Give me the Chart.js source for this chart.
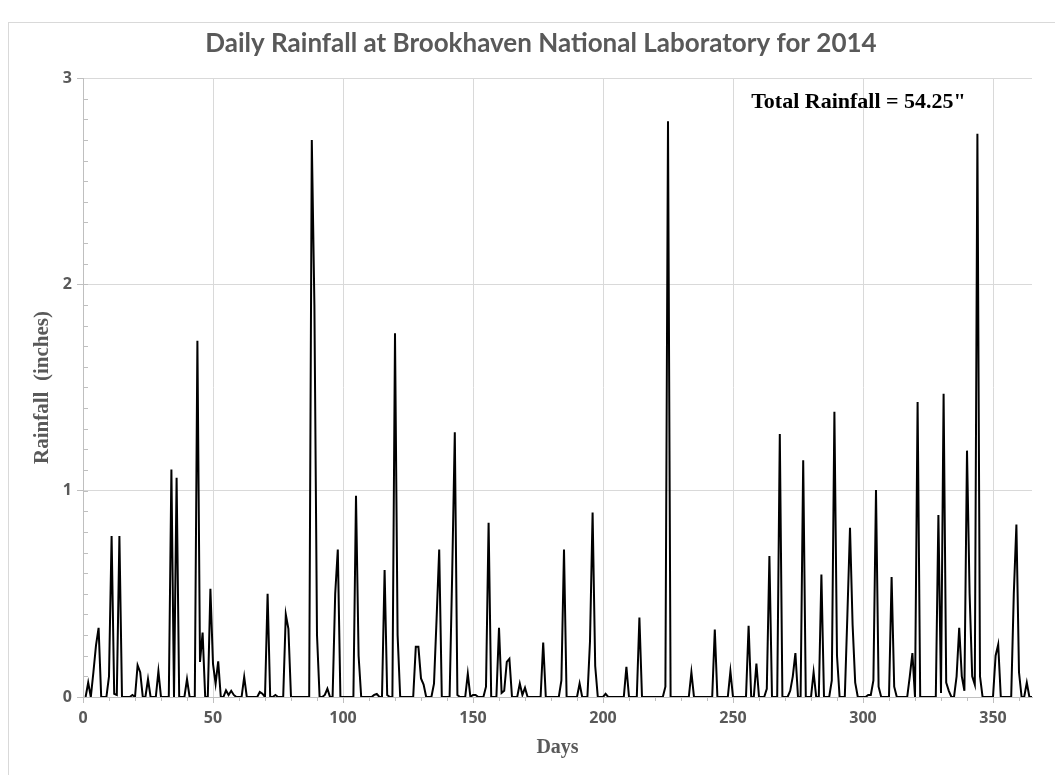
<!DOCTYPE html>
<html>
<head>
<meta charset="utf-8">
<script src="https://cdn.jsdelivr.net/npm/chart.js@4"></script>
<style>
  html, body { margin: 0; padding: 0; background: #fff; }
  #wrap { position: relative; width: 1055px; height: 775px; overflow: hidden; }
  #frame { position: absolute; left: 8px; top: 22px; width: 1100px; height: 800px;
           border-left: 1px solid #d9d9d9; border-top: 1px solid #d9d9d9; }
  #rainChart { position: absolute; left: 0; top: 0; }
</style>
</head>
<body>
<div id="wrap">
  <div id="frame"></div>
  <canvas id="rainChart" width="1055" height="775"></canvas>
</div>
<script>
// days of 2014 with measurable rain (all other days are 0)
const wetDays = [
  2, 4, 5, 6, 10, 11, 12, 13, 14, 19, 21, 22, 25, 29, 34, 36, 40, 44, 45, 46,
  49, 50, 51, 52, 55, 56, 57, 58, 62, 68, 69, 71, 74, 78, 79, 88, 89, 90, 93, 94,
  97, 98, 105, 106, 112, 113, 116, 117, 120, 121, 128, 129, 130, 131, 135, 136, 137, 142, 143, 144,
  148, 150, 151, 155, 156, 160, 161, 162, 163, 164, 168, 169, 170, 177, 184, 185, 191, 195, 196, 197,
  201, 209, 214, 224, 225, 234, 243, 249, 256, 259, 263, 264, 268, 272, 273, 274, 277, 281, 284, 288,
  289, 290, 294, 295, 296, 297, 302, 303, 304, 305, 306, 311, 312, 318, 319, 321, 329, 330, 331, 332,
  333, 336, 337, 338, 339, 340, 341, 342, 343, 344, 345, 351, 352, 358, 359, 360, 363
];
const wetInches = [
  0.07, 0.12, 0.25, 0.335, 0.1, 0.78, 0.015, 0.01, 0.78, 0.01, 0.154, 0.12, 0.086, 0.125, 1.103, 1.063, 0.086, 1.727, 0.17, 0.312,
  0.524, 0.16, 0.065, 0.173, 0.032, 0.01, 0.03, 0.01, 0.097, 0.024, 0.016, 0.5, 0.01, 0.40, 0.33, 2.70, 1.9, 0.3, 0.01, 0.04,
  0.5, 0.715, 0.975, 0.2, 0.01, 0.015, 0.615, 0.01, 1.763, 0.3, 0.243, 0.243, 0.09, 0.06, 0.065, 0.38, 0.715, 0.6, 1.283, 0.01,
  0.113, 0.01, 0.01, 0.05, 0.844, 0.335, 0.02, 0.03, 0.17, 0.185, 0.065, 0.01, 0.045, 0.264, 0.08, 0.715, 0.065, 0.27, 0.894, 0.15,
  0.015, 0.146, 0.385, 0.05, 2.79, 0.12, 0.327, 0.125, 0.345, 0.162, 0.04, 0.683, 1.274, 0.03, 0.1, 0.213, 1.147, 0.12, 0.594, 0.08,
  1.383, 0.2, 0.4, 0.82, 0.35, 0.07, 0.01, 0.01, 0.08, 1.003, 0.05, 0.582, 0.05, 0.1, 0.213, 1.43, 0.882, 0.02, 1.47, 0.07,
  0.03, 0.1, 0.335, 0.1, 0.03, 1.194, 0.5, 0.1, 0.06, 2.73, 0.1, 0.2, 0.254, 0.5, 0.836, 0.12, 0.07
];
const daysInYear = 365;
const xTickValues = [0, 50, 100, 150, 200, 250, 300, 350];
const yTickValues = [0, 1, 2, 3];
const xMinorStep = 10;
const yMinorStep = 0.1;

const titleText = "Daily Rainfall at Brookhaven National Laboratory for 2014";
const noteText = 'Total Rainfall = 54.25"';
const noteDay = 257;     // where the note starts (x value)
const noteValue = 2.88;  // and its height (y value)

// full daily series, 0 on dry days
const points = [];
for (let d = 1; d <= daysInYear; d++) {
  const i = wetDays.indexOf(d);
  points.push({ x: d, y: i >= 0 ? wetInches[i] : 0 });
}

const gray = "#595959";
const axisGray = "#bfbfbf";

// title, minor tick marks and the total-rainfall note
const extras = {
  id: "extras",
  afterDraw(chart) {
    const { ctx, scales: { x, y } } = chart;
    ctx.save();
    ctx.strokeStyle = axisGray;
    ctx.lineWidth = 1;
    ctx.beginPath();
    for (let v = yMinorStep; v < 3; v += yMinorStep) {
      const py = Math.round(y.getPixelForValue(v)) + 0.5;
      ctx.moveTo(x.left, py);
      ctx.lineTo(x.left + 5, py);
    }
    for (let v = xMinorStep; v < daysInYear; v += xMinorStep) {
      if (v % 50 === 0) continue;
      const px = Math.round(x.getPixelForValue(v)) + 0.5;
      ctx.moveTo(px, y.bottom);
      ctx.lineTo(px, y.bottom + 4);
    }
    ctx.stroke();

    ctx.fillStyle = gray;
    ctx.font = "bold 26px Lato";
    ctx.textAlign = "center";
    ctx.textBaseline = "middle";
    ctx.fillText(titleText, 541, 44);

    ctx.fillStyle = "#000";
    ctx.font = "bold 22px 'Liberation Serif'";
    ctx.textAlign = "left";
    ctx.fillText(noteText, x.getPixelForValue(noteDay), y.getPixelForValue(noteValue));
    ctx.restore();
  }
};

const ctx = document.getElementById("rainChart").getContext("2d");

const chart = new Chart(ctx, {
  type: "line",
  data: {
    datasets: [{
      data: points,
      borderColor: "#000",
      borderWidth: 2,
      pointRadius: 0,
      tension: 0,
      fill: false
    }]
  },
  options: {
    responsive: false,
    animation: false,
    layout: { padding: { left: 22, right: 23, top: 78, bottom: 10 } },
    plugins: {
      legend: { display: false },
      title: { display: false },
      tooltip: { enabled: false }
    },
    scales: {
      x: {
        type: "linear",
        min: 0,
        max: daysInYear,
        afterBuildTicks: axis => { axis.ticks = xTickValues.map(v => ({ value: v })); },
        afterFit: s => { s.height = 68; },
        grid: { color: "#d9d9d9", tickColor: axisGray, tickLength: 6 },
        border: { color: axisGray },
        ticks: {
          color: gray,
          font: { family: "Open Sans", size: 16, weight: "bold" },
          padding: 6,
          maxRotation: 0
        },
        title: {
          display: true,
          text: "Days",
          color: gray,
          font: { family: "Liberation Serif", size: 20, weight: "bold" },
          padding: { top: 0, bottom: 5 }
        }
      },
      y: {
        min: 0,
        max: 3,
        afterBuildTicks: axis => { axis.ticks = yTickValues.map(v => ({ value: v })); },
        afterFit: s => { s.width = 61; },
        grid: { color: "#d9d9d9", tickColor: axisGray, tickLength: 6 },
        border: { color: axisGray },
        ticks: {
          color: gray,
          font: { family: "Open Sans", size: 16, weight: "bold" },
          padding: 5
        },
        title: {
          display: true,
          text: "Rainfall  (inches)",
          color: gray,
          font: { family: "Liberation Serif", size: 21, weight: "bold" },
          padding: { top: 8, bottom: 0 }
        }
      }
    }
  },
  plugins: [extras]
});
</script>
</body>
</html>
